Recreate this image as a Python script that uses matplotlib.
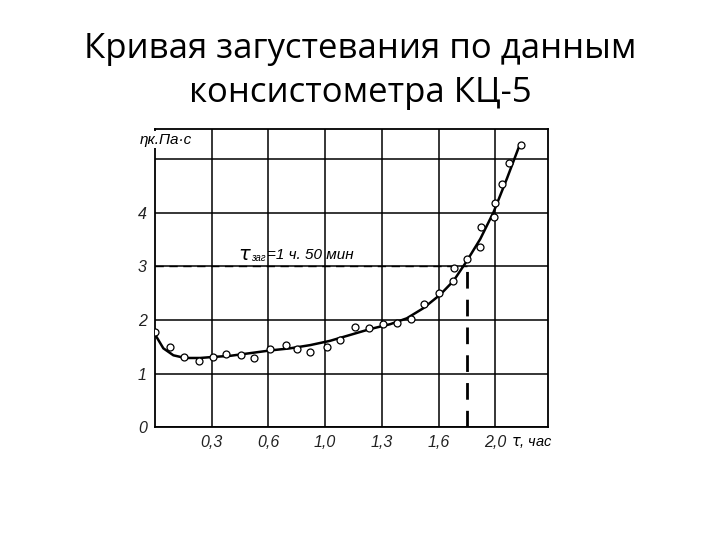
import matplotlib
matplotlib.use("Agg")
import matplotlib.pyplot as plt

# title and labels
TITLE = "Кривая загустевания по данным\nконсистометра КЦ-5"
X_TICKS = [1/3, 2/3, 1.0, 4/3, 5/3, 2.0]
X_LABELS = ["0,3", "0,6", "1,0", "1,3", "1,6", "2,0"]
Y_TICKS = [0, 1, 2, 3, 4, 5]
Y_LABELS = ["0", "1", "2", "3", "4", ""]

# measured points (hours, kPa*s)
pt_t = [0.0, 0.088, 0.171, 0.259, 0.339, 0.416, 0.506, 0.584, 0.676, 0.769,
        0.837, 0.912, 1.012, 1.09, 1.178, 1.259, 1.339, 1.422, 1.506, 1.582,
        1.667, 1.749, 1.759, 1.833, 1.912, 1.918, 1.99, 1.996, 2.039, 2.078, 2.151]
pt_eta = [1.77, 1.49, 1.31, 1.23, 1.31, 1.36, 1.35, 1.29, 1.45, 1.54,
          1.46, 1.41, 1.49, 1.62, 1.86, 1.85, 1.93, 1.95, 2.02, 2.29,
          2.51, 2.72, 2.97, 3.13, 3.36, 3.73, 3.92, 4.19, 4.53, 4.92, 5.27]

# fitted curve
cv_t = [0.0, 0.049, 0.108, 0.176, 0.265, 0.343, 0.441, 0.559, 0.676, 0.794,
        0.912, 1.029, 1.147, 1.265, 1.382, 1.48, 1.578, 1.676, 1.755, 1.833,
        1.912, 1.99, 2.069, 2.137]
cv_eta = [1.73, 1.47, 1.34, 1.29, 1.29, 1.31, 1.33, 1.38, 1.43, 1.47,
          1.53, 1.61, 1.72, 1.83, 1.92, 2.03, 2.22, 2.47, 2.73, 3.10,
          3.51, 4.01, 4.64, 5.21]

T_ZAG = 11 / 6  # 1 h 50 min
ETA_ZAG = 3.0

fig = plt.figure(figsize=(7.2, 5.4), dpi=100)
fig.text(0.5, 0.869, TITLE, ha="center", va="center", fontsize=25,
         family="Open Sans", linespacing=1.4)

ax = fig.add_axes([0.2153, 0.209, 0.5458, 0.552])
ax.set_xlim(0, 2.31)
ax.set_ylim(0, 5.56)

ax.set_xticks(X_TICKS)
ax.set_xticklabels(X_LABELS)
ax.set_yticks(Y_TICKS)
ax.set_yticklabels(Y_LABELS)
ax.tick_params(length=0, labelsize=11.5, pad=6)
for lab in ax.get_xticklabels() + ax.get_yticklabels():
    lab.set_family("Liberation Sans")
    lab.set_style("italic")
    lab.set_color("#222222")

ax.grid(True, color="black", linewidth=1.1)
ax.set_axisbelow(True)
for s in ax.spines.values():
    s.set_linewidth(1.3)

# dashed guide lines for the thickening time
ax.plot([0, T_ZAG], [ETA_ZAG, ETA_ZAG], color="black", lw=1.0, ls=(0, (6, 4)))
ax.plot([T_ZAG, T_ZAG], [0, ETA_ZAG], color="black", lw=2.0, ls=(0, (6, 4)))

ax.plot(cv_t, cv_eta, color="black", lw=1.8, zorder=3)
ax.plot(pt_t, pt_eta, "o", ms=5, mfc="white", mec="black", mew=0.9, zorder=4)

ax.text(0.49, 3.22, r"$\tau$", fontsize=14, ha="left", va="center")
ax.text(0.565, 3.15, "заг", fontsize=7, style="italic", family="Liberation Sans",
        ha="left", va="center")
ax.text(0.66, 3.22, "=1 ч. 50 мин", fontsize=11, style="italic",
        family="Liberation Sans", ha="left", va="center")

ax.text(-0.09, 5.36, "ηк.Па·с", fontsize=11, style="italic",
        family="Liberation Sans", ha="left", va="center",
        bbox=dict(facecolor="white", edgecolor="none", pad=1))
ax.text(2.09, -0.28, r"$\tau$, час", fontsize=10.5, style="italic",
        family="Liberation Sans", ha="left", va="center", clip_on=False)

fig.savefig("out.png")
